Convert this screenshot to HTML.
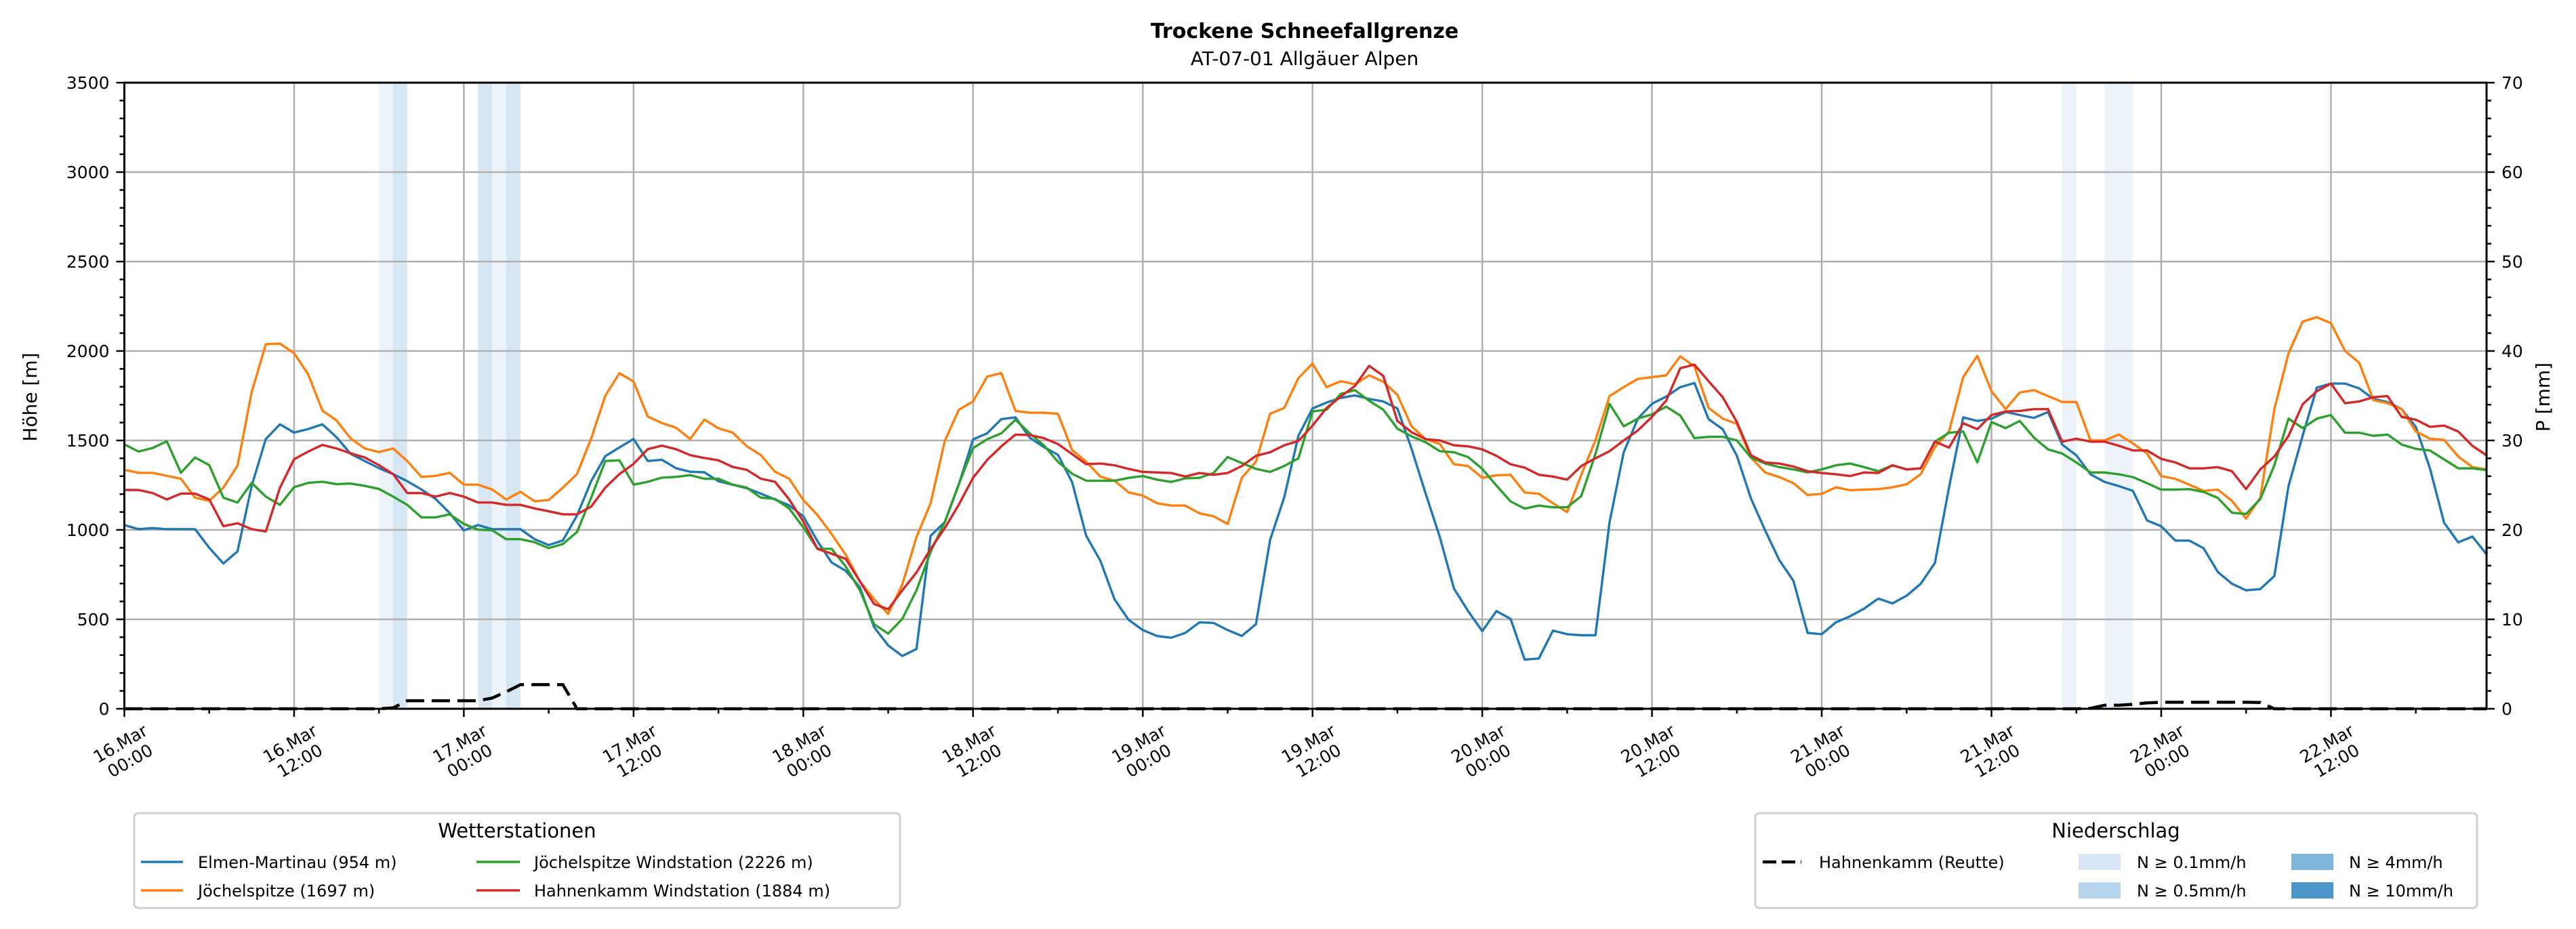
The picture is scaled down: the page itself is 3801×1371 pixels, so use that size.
<!DOCTYPE html>
<html><head><meta charset="utf-8">
<style>
html,body{margin:0;padding:0;background:#fff;}
svg{display:block;font-family:"DejaVu Sans","Liberation Sans",sans-serif;}
</style></head>
<body>
<svg id="chart" width="3801" height="1371" viewBox="0 0 3801 1371" xmlns="http://www.w3.org/2000/svg">
<rect width="3801" height="1371" fill="#fff"/>
<text x="1925" y="56" text-anchor="middle" font-size="30" font-weight="bold">Trockene Schneefallgrenze</text>
<text x="1925" y="96" text-anchor="middle" font-size="28">AT-07-01 Allgäuer Alpen</text>
<g id="plot"></g>
<text transform="translate(54,586) rotate(-90)" text-anchor="middle" font-size="28">Höhe [m]</text>
<text transform="translate(3762,586) rotate(-90)" text-anchor="middle" font-size="28">P [mm]</text>

<g>
<rect x="198" y="1200" width="1130" height="140" rx="6" fill="#fff" stroke="#d0d0d0" stroke-width="3"/>
<text x="763" y="1236" text-anchor="middle" font-size="29">Wetterstationen</text>
<line x1="208" y1="1272" x2="270" y2="1272" stroke="#1f77b4" stroke-width="3.5"/>
<text x="292" y="1281" font-size="24">Elmen-Martinau (954 m)</text>
<line x1="208" y1="1314" x2="270" y2="1314" stroke="#ff7f0e" stroke-width="3.5"/>
<text x="292" y="1323" font-size="24">Jöchelspitze (1697 m)</text>
<line x1="703" y1="1272" x2="767" y2="1272" stroke="#2ca02c" stroke-width="3.5"/>
<text x="788" y="1281" font-size="24">Jöchelspitze Windstation (2226 m)</text>
<line x1="703" y1="1314" x2="767" y2="1314" stroke="#d62728" stroke-width="3.5"/>
<text x="788" y="1323" font-size="24">Hahnenkamm Windstation (1884 m)</text>
</g>

<g>
<rect x="2590" y="1200" width="1065" height="140" rx="6" fill="#fff" stroke="#d0d0d0" stroke-width="3"/>
<text x="3122" y="1236" text-anchor="middle" font-size="29">Niederschlag</text>
<line x1="2601" y1="1272" x2="2658" y2="1272" stroke="#000" stroke-width="4.5" stroke-dasharray="20 8"/>
<text x="2684" y="1281" font-size="24">Hahnenkamm (Reutte)</text>
<rect x="3067" y="1260" width="62" height="24" fill="#d6e6f4"/>
<text x="3153" y="1281" font-size="24">N ≥ 0.1mm/h</text>
<rect x="3067" y="1302" width="62" height="24" fill="#b8d4ea"/>
<text x="3153" y="1323" font-size="24">N ≥ 0.5mm/h</text>
<rect x="3381" y="1260" width="62" height="24" fill="#7fb5d8"/>
<text x="3466" y="1281" font-size="24">N ≥ 4mm/h</text>
<rect x="3381" y="1302" width="62" height="24" fill="#4a96c9"/>
<text x="3466" y="1323" font-size="24">N ≥ 10mm/h</text>
</g>
</svg>
<script>
const elmen=[1027,1004,1010,1004,1004,1004,900,812,880,1246,1508,1590,1544,1564,1590,1518,1425,1385,1345,1312,1272,1226,1173,1094,997,1027,1004,1004,1004,948,915,941,1080,1272,1412,1461,1508,1385,1392,1345,1325,1322,1272,1253,1233,1203,1170,1137,1076,937,818,771,679,457,354,295,334,967,1043,1255,1506,1540,1619,1629,1516,1463,1420,1268,967,828,612,497,440,407,397,424,483,480,440,407,473,944,1182,1526,1679,1712,1738,1752,1732,1718,1679,1454,1202,960,672,546,434,546,503,275,281,437,417,411,411,1043,1434,1622,1705,1745,1798,1821,1619,1563,1414,1175,997,831,715,424,417,483,517,560,616,589,632,699,815,1238,1629,1609,1622,1659,1642,1626,1659,1477,1417,1311,1268,1245,1218,1053,1020,940,940,897,765,699,662,669,742,1245,1526,1795,1818,1818,1791,1732,1715,1675,1576,1344,1040,930,963,864];
const joechel=[1336,1319,1319,1302,1286,1180,1163,1236,1359,1770,2038,2041,1988,1869,1667,1611,1511,1455,1435,1455,1385,1296,1302,1319,1253,1253,1226,1170,1213,1160,1167,1236,1312,1511,1750,1876,1829,1634,1597,1571,1508,1617,1568,1544,1468,1418,1325,1286,1167,1083,977,861,712,613,530,695,960,1149,1497,1672,1718,1857,1877,1665,1655,1655,1649,1447,1381,1298,1275,1209,1192,1149,1136,1136,1093,1076,1033,1291,1381,1649,1682,1848,1930,1798,1831,1814,1864,1828,1755,1579,1507,1480,1367,1357,1291,1305,1308,1209,1202,1149,1099,1308,1500,1748,1798,1844,1854,1864,1970,1914,1682,1622,1593,1404,1321,1295,1261,1195,1202,1238,1222,1225,1228,1238,1255,1311,1463,1550,1854,1973,1775,1675,1768,1781,1748,1715,1715,1500,1500,1533,1483,1427,1301,1285,1252,1218,1225,1162,1063,1179,1675,1987,2165,2189,2155,2000,1934,1725,1708,1675,1550,1510,1503,1410,1351,1338];
const joechelWind=[1478,1438,1458,1495,1319,1405,1362,1180,1153,1263,1186,1140,1239,1263,1269,1256,1259,1246,1229,1186,1140,1070,1070,1087,1034,1001,998,948,948,931,898,921,988,1180,1385,1389,1253,1269,1292,1296,1306,1286,1286,1253,1236,1180,1173,1120,1014,894,894,795,662,473,420,503,662,877,1043,1258,1457,1507,1540,1616,1540,1473,1381,1314,1275,1275,1275,1291,1301,1281,1268,1288,1291,1318,1407,1374,1341,1324,1357,1400,1662,1672,1761,1781,1722,1672,1566,1523,1490,1440,1434,1407,1341,1248,1159,1119,1136,1126,1126,1189,1424,1705,1579,1622,1646,1689,1639,1513,1520,1520,1500,1404,1371,1351,1338,1321,1338,1361,1371,1351,1328,1361,1338,1344,1493,1543,1550,1377,1603,1569,1609,1516,1450,1427,1377,1321,1321,1311,1295,1261,1225,1225,1228,1212,1179,1096,1089,1172,1361,1622,1569,1622,1642,1543,1543,1526,1533,1477,1453,1444,1394,1344,1344,1334];
const hahnenWind=[1223,1223,1206,1170,1203,1203,1170,1021,1037,1004,991,1236,1395,1438,1475,1455,1428,1405,1362,1312,1206,1206,1186,1206,1186,1153,1153,1140,1140,1120,1104,1087,1087,1130,1236,1312,1369,1451,1471,1451,1418,1402,1389,1352,1336,1286,1269,1170,1047,894,867,838,712,586,556,662,762,894,1010,1142,1291,1391,1467,1533,1530,1513,1480,1424,1367,1371,1361,1341,1324,1321,1318,1298,1318,1308,1318,1357,1414,1434,1473,1497,1583,1682,1745,1805,1917,1861,1609,1546,1507,1500,1473,1467,1450,1414,1367,1348,1308,1298,1281,1357,1400,1440,1500,1556,1632,1722,1904,1924,1831,1742,1603,1417,1377,1371,1354,1328,1318,1311,1301,1321,1318,1361,1338,1344,1493,1460,1596,1563,1642,1662,1665,1675,1675,1493,1510,1493,1493,1470,1444,1444,1397,1377,1344,1344,1351,1328,1228,1338,1410,1526,1702,1775,1818,1708,1718,1742,1748,1632,1616,1576,1583,1550,1470,1417];
const precip=[0,0,0,0,0,0,0,0,0,0,0,0,0,0,0,0,0,0,0,0.1,0.9,0.9,0.9,0.9,0.9,0.9,1.2,1.9,2.7,2.7,2.7,2.7,0,0,0,0,0,0,0,0,0,0,0,0,0,0,0,0,0,0,0,0,0,0,0,0,0,0,0,0,0,0,0,0,0,0,0,0,0,0,0,0,0,0,0,0,0,0,0,0,0,0,0,0,0,0,0,0,0,0,0,0,0,0,0,0,0,0,0,0,0,0,0,0,0,0,0,0,0,0,0,0,0,0,0,0,0,0,0,0,0,0,0,0,0,0,0,0,0,0,0,0,0,0,0,0,0,0,0,0.05,0.4,0.4,0.5,0.66,0.73,0.73,0.73,0.73,0.73,0.73,0.73,0.7,0,0,0,0,0,0,0,0,0,0,0,0,0,0,0,0];
const spanStart=[18,19,25,26,27,137,140,141];
const spanLevel=[0,1,1,0,1,0,0,0];
const xTickLabels=["16.Mar|00:00","16.Mar|12:00","17.Mar|00:00","17.Mar|12:00","18.Mar|00:00","18.Mar|12:00","19.Mar|00:00","19.Mar|12:00","20.Mar|00:00","20.Mar|12:00","21.Mar|00:00","21.Mar|12:00","22.Mar|00:00","22.Mar|12:00"];
const yTicks=[0,500,1000,1500,2000,2500,3000,3500];
const y2Ticks=[0,10,20,30,40,50,60,70];

const L=183.5,R=3669,T=122,B=1046,HMAX=167,YMAX=3500,PMAX=70;
const sx=h=>L+(R-L)*h/HMAX;
const sy=v=>B-(B-T)*v/YMAX;
const sp=v=>B-(B-T)*v/PMAX;
const NS="http://www.w3.org/2000/svg";
const plot=document.getElementById('plot');
function mk(tag,attrs,parent){const e=document.createElementNS(NS,tag);for(const k in attrs)e.setAttribute(k,attrs[k]);(parent||plot).appendChild(e);return e;}

const spanColors=['#edf3fa','#d7e6f3'];
spanStart.forEach((s,i)=>{
  const r=mk('rect',{x:sx(s),y:T,width:sx(s+1)-sx(s),height:B-T,fill:spanColors[spanLevel[i]]});
  
  
});
const grid=mk('g',{stroke:'#b0b0b0','stroke-width':2.5});


xTickLabels.forEach((t,i)=>{const x=sx(i*12);mk('line',{x1:x,y1:T,x2:x,y2:B},grid);});
yTicks.forEach(v=>{const y=sy(v);mk('line',{x1:L,y1:y,x2:R,y2:y},grid);});
function series(arr,color,name){
  const p=mk('polyline',{points:arr.map((v,i)=>sx(i)+','+sy(v)).join(' '),fill:'none',stroke:color,'stroke-width':3.4,'stroke-linejoin':'round'});
  
  
}
series(elmen,'#1f77b4','elmen-martinau-line');
series(joechel,'#ff7f0e','joechelspitze-line');
series(joechelWind,'#2ca02c','joechelspitze-windstation-line');
series(hahnenWind,'#d62728','hahnenkamm-windstation-line');
const pl=mk('polyline',{points:precip.map((v,i)=>sx(i)+','+sp(v)).join(' '),fill:'none',stroke:'#000','stroke-width':4.5,'stroke-dasharray':'27 11'});


const fr=mk('rect',{x:L,y:T,width:R-L,height:B-T,fill:'none',stroke:'#000','stroke-width':3});


const tk=mk('g',{stroke:'#000','stroke-width':2.5});


for(let h=0;h<=HMAX;h+=6){const x=sx(h);const len=h%12===0?12:7;mk('line',{x1:x,y1:B,x2:x,y2:B+len},tk);}
for(let v=0;v<=YMAX;v+=100){const y=sy(v);const len=v%500===0?12:7;mk('line',{x1:L,y1:y,x2:L-len,y2:y},tk);mk('line',{x1:R,y1:y,x2:R+len,y2:y},tk);}
yTicks.forEach(v=>{
  const t=mk('text',{x:L-22,y:sy(v)+9,'text-anchor':'end','font-size':25});
  t.textContent=v;
  
  
});
y2Ticks.forEach(v=>{
  const t=mk('text',{x:R+22,y:sp(v)+9,'font-size':25});
  t.textContent=v;
  
  
});
xTickLabels.forEach((lab,i)=>{
  const parts=lab.split('|');
  const g=mk('g',{transform:'translate('+(sx(i*12)+22)+',1066) rotate(-30)','font-size':25,'text-anchor':'middle'});
  
  
  const a=mk('text',{x:-40,y:22},g);a.textContent=parts[0];
  const b=mk('text',{x:-40,y:51},g);b.textContent=parts[1];
});
</script>
</body></html>
